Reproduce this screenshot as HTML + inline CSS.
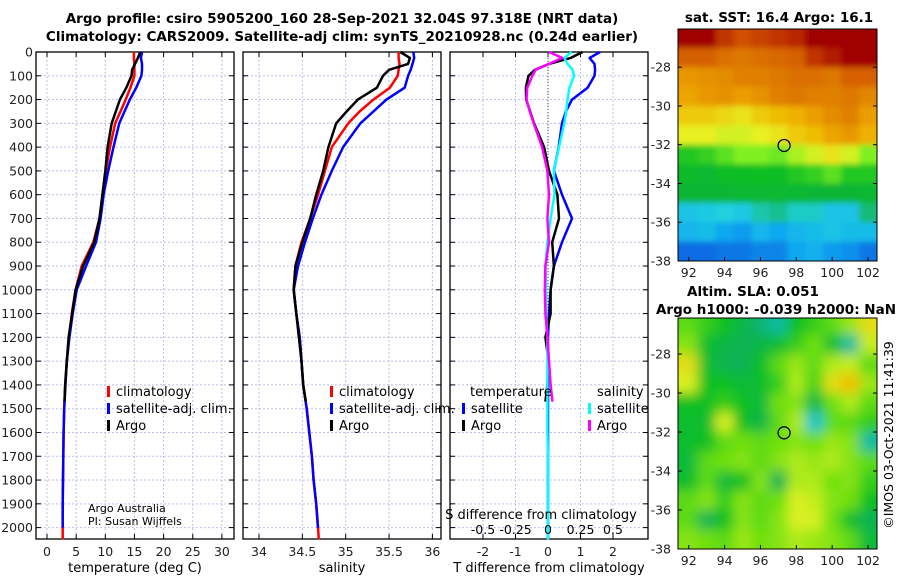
<!DOCTYPE html>
<html><head><meta charset="utf-8"><style>
body{margin:0;background:#fff;}
svg{font-family:"DejaVu Sans","Liberation Sans",sans-serif;}
</style></head><body>
<svg id="c" width="900" height="580" viewBox="0 0 900 580" xmlns="http://www.w3.org/2000/svg">
<text x="342" y="23" text-anchor="middle" font-size="13.5" font-weight="bold">Argo profile: csiro 5905200_160 28-Sep-2021 32.04S 97.318E (NRT data)</text>
<text x="342" y="41" text-anchor="middle" font-size="13.5" font-weight="bold">Climatology: CARS2009. Satellite-adj clim: synTS_20210928.nc (0.24d earlier)</text>
<g id="g"></g>
</svg>
<script>
const depths=[0,25,50,75,100,150,200,250,300,400,500,600,700,800,900,1000,1100,1200,1300,1400,1500,1600,1700,1800,1900,2000,2050];
const tempClim=[14.9,14.9,15.0,15.0,15.0,14.3,13.5,12.6,11.7,10.8,10.1,9.55,9.0,7.95,5.95,4.9,4.25,3.8,3.4,3.15,2.95,2.85,2.8,2.75,2.7,2.7,2.7];
const tempSat=[16.3,16.1,16.3,16.3,16.2,15.3,14.2,13.3,12.4,11.4,10.5,9.7,9.2,8.4,6.7,5.1,4.4,3.85,3.4,3.15,2.95,2.85,2.8,2.75,2.7,2.7];
const argoDepths=[0,25,50,75,100,150,200,250,300,400,500,600,700,800,900,1000,1100,1200,1300,1400,1470];
const tempArgo=[16.0,15.6,15.1,14.6,14.5,13.6,12.5,11.8,11.1,10.4,10.0,9.5,9.0,8.1,6.2,4.9,4.3,3.7,3.4,3.1,3.0];
const salClim=[35.61,35.61,35.62,35.61,35.6,35.51,35.32,35.16,35.03,34.84,34.76,34.68,34.59,34.49,34.42,34.4,34.43,34.47,34.49,34.51,34.55,34.58,34.61,34.63,34.66,34.68,34.69];
const salSat=[35.78,35.79,35.77,35.75,35.72,35.68,35.47,35.32,35.17,34.97,34.84,34.72,34.62,34.53,34.45,34.4,34.43,34.47,34.49,34.51,34.55,34.58,34.61,34.63,34.66,34.68];
const salArgo=[35.63,35.74,35.72,35.5,35.43,35.36,35.14,35.01,34.89,34.8,34.74,34.66,34.59,34.5,34.42,34.4,34.43,34.46,34.49,34.51,34.54];
const dTsat=[1.6,1.28,1.43,1.45,1.43,1.22,0.74,0.55,0.43,0.33,0.18,0.43,0.74,0.43,0.18,0.08,0.03,0,0,0,0,0,0,0,0,0,0];
const dTargo=[1.06,0.7,0.03,-0.4,-0.6,-0.68,-0.67,-0.55,-0.43,-0.12,0.03,0.29,0.34,0.13,0.18,0.08,0.08,-0.08,0.02,-0.02,-0.08];
const dSsat=[0.18,0.125,0.15,0.19,0.2,0.165,0.15,0.14,0.125,0.085,0.045,0.05,0.02,-0.005,-0.02,-0.015,-0.015,-0.005,-0.005,-0.005,-0.005,-0.005,0,0,0,0,0];
const dSargo=[0.008,0.11,0.008,-0.095,-0.12,-0.16,-0.165,-0.14,-0.11,-0.045,-0.005,0.008,-0.005,0.008,-0.02,-0.025,-0.02,-0.005,0.008,0.02,0.035];
const depthTicks=[0,100,200,300,400,500,600,700,800,900,1000,1100,1200,1300,1400,1500,1600,1700,1800,1900,2000];
const tTicks=[0,5,10,15,20,25,30];
const sTicks=[34,34.5,35,35.5,36];
const dTTicks=[-2,-1,0,1,2];
const dSTicks=[-0.5,-0.25,0,0.25,0.5];
const sstLats=[-26.5,-27.5,-28.5,-29.5,-30.5,-31.5,-32.5,-33.5,-34.5,-35.5,-36.5,-37.5];
const mapLons=[92,93,94,95,96,97,98,99,100,101,102];
const sstGrid=[
[19,19,18.6,18.4,18.5,18.6,18.7,19,19,19,19],
[18.2,18.2,18,17.9,18,18.1,18.2,18.6,18.8,19,19],
[17.4,17.5,17.6,17.8,17.8,17.9,18,18,17.9,18.2,18.2],
[17.2,17.4,17.5,17.3,17.5,17.8,17.9,17.8,17.8,17.9,17.7],
[16.8,16.8,16.7,16.6,16.8,16.9,17,17.3,17.6,17.8,17.3],
[16.5,16.5,16.4,16.4,16.5,16.6,16.8,16.9,17.2,17.4,17],
[15.5,15.6,15.8,16,16,15.9,16.2,16.4,16.6,16.4,16],
[15.2,15.1,15.3,15.3,15.4,15.3,15.5,15.6,15.8,15.5,15.5],
[15,15,15,15.1,15.1,15.1,15.1,15,15,15,15.1],
[14,14.1,14.2,14.1,14.4,14.5,14.3,14.3,14,14,14.6],
[13.8,13.9,13.6,13.5,13.8,13.6,13.8,13.9,14,13.9,13.9],
[13.1,13.1,13.2,13.2,13.3,13.3,13.6,13.7,13.5,13.4,13.2]];
const slaGrid=[
[0.02,0,-0.02,-0.05,-0.08,-0.1,-0.02,0,0.02,0.05,0.1],
[0.04,-0.03,-0.05,-0.06,-0.05,-0.03,0,0.03,-0.03,-0.1,0.07],
[0.1,-0.03,-0.06,-0.06,-0.03,0.02,0.05,0.02,0.06,0.07,0.02],
[0.08,-0.02,-0.02,-0.04,-0.03,0,0.06,0.01,0.1,0.13,0.05],
[-0.02,-0.02,0,-0.02,-0.04,0.03,0.04,-0.05,0.03,0.06,0.02],
[-0.03,-0.03,0.08,-0.02,-0.05,0.02,0.06,-0.12,0.02,0.02,0],
[-0.03,-0.02,0.02,0.03,0.02,0.03,0.04,0.03,0.05,0.04,-0.1],
[-0.04,0.02,0.03,0.04,0.02,0.04,0.06,0.05,0.06,0.04,0.02],
[-0.03,0.02,-0.04,-0.02,0.04,-0.06,0.06,0.06,0.03,0.04,0],
[0.02,0.04,0,0.04,0.02,0.03,0.08,0.07,0.04,0.03,-0.02],
[0.02,-0.06,-0.02,0.04,0.02,0.04,0.08,0.08,0.03,-0.03,-0.06],
[0.04,0.03,0.02,0.05,0.03,0.04,0.06,0.05,0.04,0.02,-0.04]];
const lonTicks=[92,94,96,98,100,102];
const latTicks=[-28,-30,-32,-34,-36,-38];
const argoPos=[97.318,-32.04];

const NS='http://www.w3.org/2000/svg';
const G=document.getElementById('g');
function mk(t,a,p){const e=document.createElementNS(NS,t);for(const k in a)e.setAttribute(k,a[k]);(p||G).appendChild(e);return e;}
function txt(x,y,s,sz,anc,p){const e=mk('text',{x:x,y:y,'font-size':sz,'text-anchor':anc||'middle'},p);e.textContent=s;return e;}
const TOP=52,BOT=539;
const yD=d=>TOP+d*0.2378;
const panels=[
 {x0:36,x1:234,fx:v=>47+v*5.83,ticks:tTicks,lab:'temperature (deg C)',name:'temperature'},
 {x0:243,x1:441,fx:v=>259+(v-34)*86.7,ticks:sTicks,lab:'salinity',name:'salinity'},
 {x0:450,x1:648,fx:v=>548+v*32.5,ticks:dTTicks,lab:'T difference from climatology',name:'difference'}];
panels.forEach((P,i)=>{
 const g=mk('g',{});
 
 
 depthTicks.forEach(d=>{mk('line',{x1:P.x0,x2:P.x1,y1:yD(d),y2:yD(d),stroke:'#b8c0ee','stroke-width':1,'stroke-dasharray':'2,2'},g);});
 P.ticks.forEach(v=>{const x=P.fx(v);mk('line',{x1:x,x2:x,y1:TOP,y2:BOT,stroke:'#b8c0ee','stroke-width':1,'stroke-dasharray':'2,2'},g);
  mk('line',{x1:x,x2:x,y1:BOT,y2:BOT-5,stroke:'#000'},g);mk('line',{x1:x,x2:x,y1:TOP,y2:TOP+5,stroke:'#000'},g);
  const t=txt(x,556,String(v),12.5,'middle',g);t.setAttribute('fill','#222');});
 depthTicks.forEach(d=>{mk('line',{x1:P.x0,x2:P.x0+5,y1:yD(d),y2:yD(d),stroke:'#000'},g);mk('line',{x1:P.x1,x2:P.x1-5,y1:yD(d),y2:yD(d),stroke:'#000'},g);});
 mk('rect',{x:P.x0,y:TOP,width:P.x1-P.x0,height:BOT-TOP,fill:'none',stroke:'#000','stroke-width':1.3},g);
 const xl=txt((P.x0+P.x1)/2,572,P.lab,13,'middle',g);
 
 
});
depthTicks.forEach(d=>{const t=txt(33,yD(d)+4.5,String(d),12.5,'end');t.setAttribute('fill','#222');});
function line(xs,ds,fx,col,w,name){
 const pts=xs.map((v,i)=>fx(v).toFixed(1)+','+yD(ds[i]).toFixed(1)).join(' ');
 const e=mk('polyline',{points:pts,fill:'none',stroke:col,'stroke-width':w,'stroke-linejoin':'round'});
 
 
}
const P1=panels[0].fx,P2=panels[1].fx,P3=panels[2].fx,PS=v=>548+v*130;
line(tempClim,depths,P1,'#f00',2.5,'temp-climatology-line');
line(tempSat,depths,P1,'#00f',2.5,'temp-satellite-line');
line(tempArgo,argoDepths,P1,'#000',2.5,'temp-argo-line');
line(salClim,depths,P2,'#f00',2.5,'sal-climatology-line');
line(salSat,depths,P2,'#00f',2.5,'sal-satellite-line');
line(salArgo,argoDepths,P2,'#000',2.5,'sal-argo-line');
mk('line',{x1:548,x2:548,y1:TOP,y2:BOT,stroke:'#444','stroke-dasharray':'1,2'});
line(dTsat,depths,P3,'#00f',2.5,'tdiff-satellite-line');
line(dTargo,argoDepths,P3,'#000',2.5,'tdiff-argo-line');
line(dSsat,depths,PS,'#0ff',2.5,'sdiff-satellite-line');
line(dSargo,argoDepths,PS,'#f0f',2.5,'sdiff-argo-line');
// S axis
txt(541,519,'S difference from climatology',13);
dSTicks.forEach(v=>{txt(PS(v),534,String(v),12.5);});
// legends
function leg(x,y,col,s,name){const g=mk('g',{});
 mk('rect',{x:x,y:y-10,width:3,height:11,fill:col},g);txt(x+9,y,s,13,'start',g);}
[[107,'legend'],[330,'legend-sal']].forEach(([x,n])=>{leg(x,396,'#f00','climatology',n+'-climatology');leg(x,413,'#00f','satellite-adj. clim.',n+'-satellite');leg(x,430,'#000','Argo',n+'-argo');});
txt(470,396,'temperature',13,'start');txt(597,396,'salinity',13,'start');
leg(462,413,'#00f','satellite','legend-tdiff-satellite');leg(462,430,'#000','Argo','legend-tdiff-argo');
leg(588,413,'#0ff','satellite','legend-sdiff-satellite');leg(588,430,'#f0f','Argo','legend-sdiff-argo');
txt(88,512,'Argo Australia',11,'start');txt(88,525,'PI: Susan Wijffels',11,'start');
// maps
function rgbS(st){return st.map(s=>[s[0],[parseInt(s[1].slice(1,3),16),parseInt(s[1].slice(3,5),16),parseInt(s[1].slice(5,7),16)]]);}
function col(st,v){if(v<=st[0][0])return 'rgb('+st[0][1].join(',')+')';for(let i=1;i<st.length;i++)if(v<=st[i][0]){const a=st[i-1],b=st[i],f=(v-a[0])/(b[0]-a[0]);return 'rgb('+[0,1,2].map(k=>Math.round(a[1][k]+(b[1][k]-a[1][k])*f)).join(',')+')';}return 'rgb('+st[st.length-1][1].join(',')+')';}
const sstStops=rgbS([[13,'#1060e0'],[13.6,'#10a8f0'],[14.2,'#20d0e0'],[14.8,'#10b040'],[15.4,'#10c020'],[16,'#80f020'],[16.5,'#e8f020'],[17,'#f0b000'],[17.8,'#e08000'],[18.4,'#d05000'],[19,'#a00000']]);
const slaStops=rgbS([[-0.13,'#10c8e0'],[-0.07,'#10b060'],[-0.02,'#10c020'],[0.03,'#70e010'],[0.08,'#d8f020'],[0.13,'#f0c000']]);
function mapPanel(y0,y1,latTop,latBot,grid,stops,name,blur){
 const x0=678,x1=877,lonL=91.4,lonR=102.5;
 const fx=l=>x0+(l-lonL)/(lonR-lonL)*(x1-x0),fy=la=>y0+(latTop-la)/(latTop-latBot)*(y1-y0);
 const g=mk('g',{});
 mk('clipPath',{id:name+'c'},g).appendChild(mk('rect',{x:x0,y:y0,width:x1-x0,height:y1-y0},g));
 const cg=mk('g',{'clip-path':'url(#'+name+'c)'},g);
 const ig=mk('g',{filter:'url(#'+blur+')'},cg);
 grid.forEach((row,r)=>row.forEach((v,c)=>{
  const la=sstLats[r],lo=mapLons[c];
  const xa=fx(lo-0.5-(c==0?1:0)),xb=fx(lo+0.5+(c==row.length-1?1:0));
  const ya=fy(la+0.5+(r==0?1:0)),yb=fy(la-0.5-(r==grid.length-1?1:0));
  const cell=mk('rect',{x:xa,y:ya,width:xb-xa+0.6,height:yb-ya+0.6,fill:col(stops,v)},ig);
  
  
 }));
 mk('circle',{cx:fx(argoPos[0]),cy:fy(argoPos[1]),r:6,fill:'none',stroke:'#000','stroke-width':1.3},g);
 mk('rect',{x:x0,y:y0,width:x1-x0,height:y1-y0,fill:'none',stroke:'#000'},g);
 lonTicks.forEach(l=>{mk('line',{x1:fx(l),x2:fx(l),y1:y1,y2:y1-4,stroke:'#000'},g);txt(fx(l),y1+16,String(l),12.5,'middle',g).setAttribute('fill','#222');});
 latTicks.forEach(la=>{mk('line',{x1:x1,x2:x1-4,y1:fy(la),y2:fy(la),stroke:'#000'},g);mk('line',{x1:x0,x2:x0+4,y1:fy(la),y2:fy(la),stroke:'#000'},g);txt(x0-7,fy(la)+4.5,String(la),12.5,'end',g).setAttribute('fill','#222');});
}
const defs=mk('defs',{});
const f=mk('filter',{id:'bl',x:'-0.1',y:'-0.1',width:'1.2',height:'1.2'},defs);mk('feGaussianBlur',{stdDeviation:6},f);
const f2=mk('filter',{id:'bs',x:'-0.1',y:'-0.1',width:'1.2',height:'1.2'},defs);mk('feGaussianBlur',{stdDeviation:3},f2);
mapPanel(29,261,-26.03,-38,sstGrid,sstStops,'sst-map','bs');
mapPanel(318,549,-26.15,-38,slaGrid,slaStops,'sla-map','bl');
txt(779,22,'sat. SST: 16.4 Argo: 16.1',13.5).setAttribute('font-weight','bold');
txt(753,296,'Altim. SLA: 0.051',13.5).setAttribute('font-weight','bold');
txt(776,314,'Argo h1000: -0.039 h2000: NaN',13.5).setAttribute('font-weight','bold');
const cr=txt(0,0,'©IMOS 03-Oct-2021 11:41:39',12.5);cr.setAttribute('transform','translate(893,435) rotate(-90)');


</script>
</body></html>
